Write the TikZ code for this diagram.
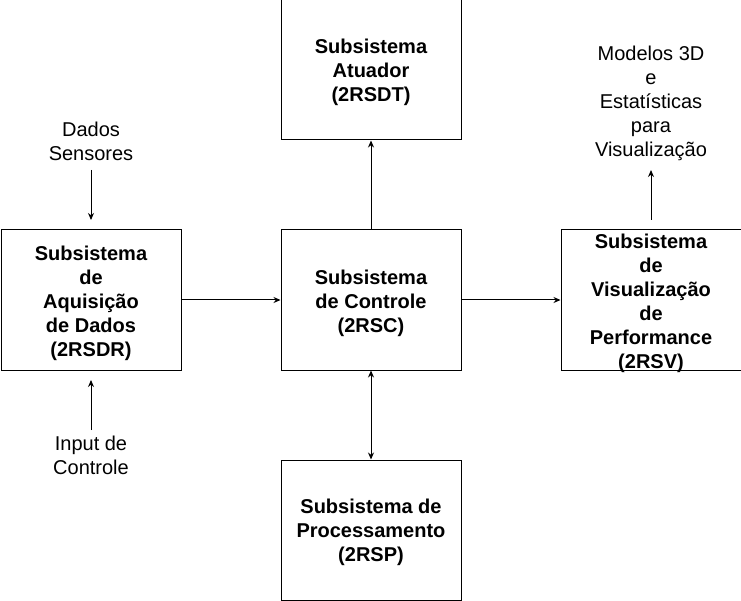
\documentclass[tikz,border=0pt]{standalone}
\usepackage{fontspec}
\setmainfont{Liberation Sans}
\usetikzlibrary{arrows.meta}
\begin{document}
\begin{tikzpicture}[x=1pt,y=-1pt,
  box/.style={draw,line width=1pt,minimum width=180pt,minimum height=140pt,inner sep=0pt},
  boxtxt/.style={align=center,font=\fontsize{20}{24}\selectfont\bfseries,inner sep=0pt},
  lbl/.style={align=center,font=\fontsize{20}{24}\selectfont,inner sep=0pt},
  arr/.style={line width=1pt,-{Stealth[length=7pt,width=6pt]}},
  darr/.style={line width=1pt,{Stealth[length=7pt,width=6pt]}-{Stealth[length=7pt,width=6pt]}}]
\useasboundingbox (0,0) rectangle (741,601);
\node[box] (aq) at (91,300) {};
\node[box] (ct) at (371,300) {};
\node[box] (at) at (371,70) {};
\node[box] (pr) at (371,530) {};
\node[box] (vi) at (651,300) {};
\node[boxtxt] (aqt) at ([yshift=-3pt]aq.center) {Subsistema\\de\\Aquisição\\de Dados\\(2RSDR)};
\node[boxtxt] (ctt) at ([yshift=-3pt]ct.center) {Subsistema\\de Controle\\(2RSC)};
\node[boxtxt] (att) at ([yshift=-2pt]at.center) {Subsistema\\Atuador\\(2RSDT)};
\node[boxtxt] (prt) at ([yshift=-2pt]pr.center) {Subsistema de\\Processamento\\(2RSP)};
\node[boxtxt] (vit) at ([yshift=-3pt]vi.center) {Subsistema\\de\\Visualização\\de\\Performance\\(2RSV)};
\node[lbl] (ds) at (91,141) {Dados\\Sensores};
\node[lbl] (ic) at (91,455) {Input de\\Controle};
\node[lbl] (mo) at (651,103) {Modelos 3D\\e\\Estatísticas\\para\\Visualização};
\coordinate (dsS) at (91,170);
\coordinate (dsE) at (91,220);
\coordinate (icS) at (91,430);
\coordinate (icE) at (91,380);
\coordinate (moS) at (651,220);
\coordinate (moE) at (651,170);
\draw[arr] (aq.east) -- (ct.west);
\draw[arr] (ct.east) -- (vi.west);
\draw[arr] (ct.north) -- (at.south);
\draw[darr] (ct.south) -- (pr.north);
\draw[arr] (dsS) -- (dsE);
\draw[arr] (icS) -- (icE);
\draw[arr] (moS) -- (moE);
\end{tikzpicture}
\end{document}
